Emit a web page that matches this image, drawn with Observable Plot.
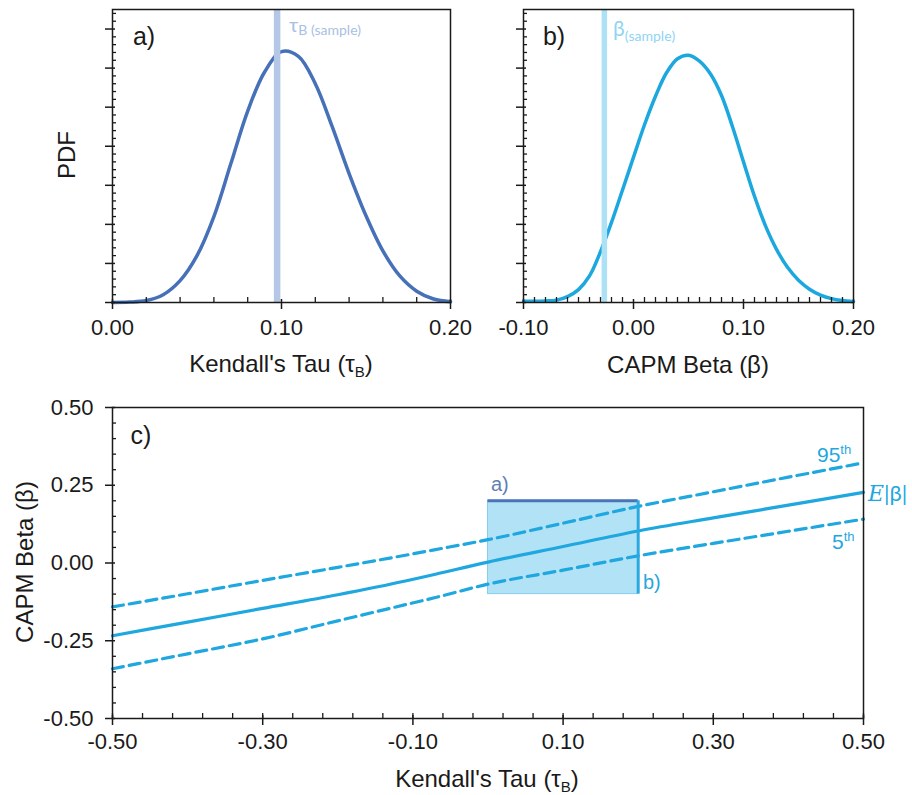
<!DOCTYPE html>
<html><head><meta charset="utf-8">
<script src="https://cdn.jsdelivr.net/npm/d3@7"></script>
<script src="https://cdn.jsdelivr.net/npm/@observablehq/plot@0.6"></script>
<style>
html,body{margin:0;padding:0;background:#fff;}
#root{position:relative;width:912px;height:795px;overflow:hidden;font-family:"Liberation Sans",Arial,sans-serif;color:#1a1a1a;}
.p{position:absolute;}
.lbl{position:absolute;line-height:1;white-space:nowrap;transform:translate(0,-50%);}
.ctr{position:absolute;line-height:1;white-space:nowrap;transform:translate(-50%,-50%);}
.rot{position:absolute;line-height:1;white-space:nowrap;transform:translate(-50%,-50%) rotate(-90deg);}
.sm{font-family:Lato,"Open Sans",sans-serif;}
</style></head><body><div id="root"></div>
<script>
// ---- Panel a: PDF of Kendall's tau
const tauA = [0, 0.01, 0.02, 0.03, 0.04, 0.05, 0.06, 0.07, 0.08, 0.09, 0.10, 0.11, 0.12, 0.13, 0.14, 0.15, 0.16, 0.17, 0.18, 0.19, 0.20];
const pdfA = [0, 0.01, 0.05, 0.2, 0.56, 1.2, 2.2, 3.55, 4.9, 5.9, 6.42, 6.3, 5.6, 4.5, 3.3, 2.22, 1.32, 0.68, 0.29, 0.09, 0.02];
const tauSample = 0.0974;
// ---- Panel b: PDF of CAPM beta
const betaB = [-0.10, -0.09, -0.08, -0.07, -0.06, -0.05, -0.04, -0.03, -0.02, -0.01, 0.00, 0.01, 0.02, 0.03, 0.04, 0.05, 0.06, 0.07, 0.08, 0.09, 0.10, 0.11, 0.12, 0.13, 0.14, 0.15, 0.16, 0.17, 0.18, 0.19, 0.20];
const pdfB = [0.03, 0.03, 0.04, 0.06, 0.15, 0.33, 0.68, 1.3, 2.05, 2.88, 3.72, 4.55, 5.28, 5.88, 6.24, 6.33, 6.18, 5.85, 5.3, 4.5, 3.6, 2.72, 1.96, 1.36, 0.9, 0.57, 0.34, 0.19, 0.1, 0.05, 0.02];
const betaSample = -0.0265;
// ---- Panel c: beta vs tau
const tauC  = [-0.5, -0.4, -0.3, -0.2, -0.11, -0.07, 0.0, 0.1, 0.2, 0.3, 0.4, 0.5];
const meanC = [-0.234, -0.19, -0.146, -0.102, -0.058, -0.036, 0.003, 0.053, 0.103, 0.145, 0.186, 0.227];
const p95C  = [-0.141, -0.099, -0.056, -0.014, 0.025, 0.043, 0.075, 0.128, 0.182, 0.229, 0.276, 0.322];
const p5C   = [-0.340, -0.292, -0.244, -0.186, -0.134, -0.111, -0.068, -0.023, 0.023, 0.063, 0.102, 0.141];
const boxTau = [0.0, 0.2];
const boxBeta = [-0.1, 0.2];
// ---- ticks
const ticksAx = [0, 0.1, 0.2];
const ticksBx = [-0.1, 0, 0.1, 0.2];
const ticksPdf = [0, 1, 2, 3, 4, 5, 6, 7];
const ticksCx = [-0.5, -0.3, -0.1, 0.1, 0.3, 0.5];
const ticksCy = [-0.5, -0.25, 0, 0.25, 0.5];

const colA = "#4670b8", colASample = "#b4c7e7";
const colB = "#1ca8de", colBSample = "#ade2f6";
const colC = "#1fa7df";
const ink = "#1a1a1a";
const fmt = d => (Math.abs(d) < 1e-9 ? 0 : d).toFixed(2);

function minor(lo, hi, step, major) {
  const out = [];
  const n = Math.round((hi - lo) / step);
  for (let i = 0; i <= n; i++) {
    const v = lo + i * step;
    const r = v / major;
    if (Math.abs(r - Math.round(r)) > 1e-6) out.push(+v.toFixed(6));
  }
  return out;
}

function frameAxes(xMajor, xMinor, yMajor, yMinor, xPad, yLabels) {
  const marks = [
    Plot.axisY({ticks: yMinor, tickSize: 4, dx: 4, tickFormat: () => "", label: null, stroke: ink, strokeWidth: 1.3}),
    Plot.axisY({ticks: yMajor, tickSize: 10, dx: 3, tickFormat: () => "", label: null, stroke: ink, strokeWidth: 1.5}),
    Plot.axisX({ticks: xMinor, tickSize: 5, dy: -5, tickFormat: () => "", label: null, stroke: ink, strokeWidth: 1.3}),
    Plot.axisX({ticks: xMajor, tickSize: 10, dy: -3, tickFormat: () => "", label: null, stroke: ink, strokeWidth: 1.5}),
    Plot.axisX({ticks: xMajor, tickSize: 0, tickPadding: xPad, tickFormat: fmt, label: null, fontSize: 22, fill: ink}),
    Plot.frame({stroke: ink, strokeWidth: 1.5})
  ];
  if (yLabels) marks.push(Plot.axisY({ticks: yMajor, tickSize: 0, tickPadding: 19, tickFormat: fmt, label: null, fontSize: 22, fill: ink}));
  return marks;
}

const baseStyle = {fontFamily: "'Liberation Sans', Arial, sans-serif", fontSize: "22px", color: ink, background: "transparent", overflow: "visible"};
const root = document.getElementById("root");
function place(svg, left, top) {
  svg.classList.add("p");
  svg.style.left = left + "px";
  svg.style.top = top + "px";
  root.appendChild(svg);
}

// Panel a
const dataA = tauA.map((t, i) => ({x: t, y: pdfA[i]}));
const plotA = Plot.plot({
  width: 470, height: 390, marginLeft: 112, marginRight: 20, marginTop: 9, marginBottom: 88,
  style: baseStyle,
  x: {domain: [0, 0.2]},
  y: {domain: [0, 7.5]},
  marks: [
    Plot.line(dataA, {x: "x", y: "y", stroke: colA, strokeWidth: 3.5, curve: "catmull-rom"}),
    Plot.ruleX([tauSample], {stroke: colASample, strokeWidth: 6.5}),
    ...frameAxes(ticksAx, minor(0, 0.2, 0.02, 0.1), ticksPdf, minor(0, 7.4, 0.2, 1), 17, false)
  ]
});
place(plotA, 0, 0);

// Panel b
const dataB = betaB.map((b, i) => ({x: b, y: pdfB[i]}));
const plotB = Plot.plot({
  width: 442, height: 390, marginLeft: 53, marginRight: 59, marginTop: 9, marginBottom: 88,
  style: baseStyle,
  x: {domain: [-0.1, 0.2]},
  y: {domain: [0, 7.5]},
  marks: [
    Plot.line(dataB, {x: "x", y: "y", stroke: colB, strokeWidth: 3.5, curve: "catmull-rom"}),
    Plot.ruleX([betaSample], {stroke: colBSample, strokeWidth: 5.5}),
    ...frameAxes(ticksBx, minor(-0.1, 0.2, 0.01, 0.1), ticksPdf, minor(0, 7.4, 0.2, 1), 17, false)
  ]
});
place(plotB, 470, 0);

// Panel c
const dataC = tauC.map((t, i) => ({x: t, mean: meanC[i], hi: p95C[i], lo: p5C[i]}));
const plotC = Plot.plot({
  width: 912, height: 405, marginLeft: 112, marginRight: 49, marginTop: 17, marginBottom: 77,
  style: baseStyle,
  x: {domain: [-0.5, 0.5]},
  y: {domain: [-0.5, 0.5]},
  marks: [
    Plot.rect([{x1: boxTau[0], x2: boxTau[1], y1: boxBeta[0], y2: boxBeta[1]}], {x1: "x1", x2: "x2", y1: "y1", y2: "y2", fill: "#b2e2f6", stroke: "#86cdee", strokeWidth: 1}),
    Plot.line(dataC, {x: "x", y: "hi", stroke: colC, strokeWidth: 3.2, strokeDasharray: "11,6", curve: "monotone-x"}),
    Plot.line(dataC, {x: "x", y: "lo", stroke: colC, strokeWidth: 3.2, strokeDasharray: "11,6", curve: "monotone-x"}),
    Plot.line(dataC, {x: "x", y: "mean", stroke: colC, strokeWidth: 3.2, curve: "monotone-x"}),
    Plot.ruleY([boxBeta[1]], {x1: boxTau[0], x2: boxTau[1], stroke: "#4a73b8", strokeWidth: 3}),
    Plot.ruleX([boxTau[1]], {y1: boxBeta[0], y2: boxBeta[1], stroke: "#2aa8e0", strokeWidth: 3}),
    ...frameAxes(ticksCx, minor(-0.5, 0.5, 0.04, 0.2), ticksCy, minor(-0.5, 0.5, 0.05, 0.25), 15, true)
  ]
});
place(plotC, 0, 390);

// HTML text labels
function add(cls, x, y, html, style) {
  const d = document.createElement("div");
  d.className = cls;
  d.style.left = x + "px";
  d.style.top = y + "px";
  d.innerHTML = html;
  if (style) Object.assign(d.style, style);
  root.appendChild(d);
}
const subB = "<span style='font-size:15px;position:relative;top:5px'>B</span>";
add("rot", 67, 155, "PDF", {fontSize: "24px"});
add("ctr", 281, 364, "Kendall's Tau (τ" + subB + ")", {fontSize: "24px"});
add("ctr", 688, 365, "CAPM Beta (β)", {fontSize: "24px"});
add("ctr", 487, 779, "Kendall's Tau (τ" + subB + ")", {fontSize: "24px"});
add("rot", 25, 562, "CAPM Beta (β)", {fontSize: "24px"});
add("ctr", 144, 36, "a)", {fontSize: "25px"});
add("ctr", 554, 36, "b)", {fontSize: "25px"});
add("ctr", 141, 435, "c)", {fontSize: "25px"});
add("lbl sm", 289, 24, "<span style='font-size:20px'>τ</span><span style='font-size:14px;position:relative;top:3px'>B (sample)</span>", {color: "#a9bfe3"});
add("lbl sm", 613, 27, "<span style='font-size:21px'>β</span><span style='font-size:14px;position:relative;top:5px'>(sample)</span>", {color: "#8fd5f3"});
add("lbl", 817, 454, "95<span style='font-size:13px;position:relative;top:-8px'>th</span>", {fontSize: "21px", color: colC});
add("lbl", 868, 493, "<span style=\"font-family:'DejaVu Serif',serif;font-style:italic\">E</span><span class='sm'>|β|</span>", {fontSize: "22px", color: colC});
add("lbl", 832, 541, "5<span style='font-size:13px;position:relative;top:-8px'>th</span>", {fontSize: "21px", color: colC});
add("lbl", 491, 484, "a)", {fontSize: "20px", color: "#5f7fb5"});
add("lbl", 643, 582, "b)", {fontSize: "20px", color: "#2aa6dc"});
</script>
</body></html>
